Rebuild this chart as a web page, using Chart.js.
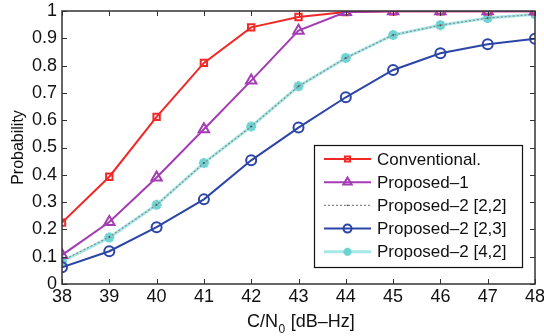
<!DOCTYPE html>
<html><head><meta charset="utf-8">
<script src="https://cdn.jsdelivr.net/npm/chart.js@4/dist/chart.umd.min.js"></script>
<style>html,body{margin:0;padding:0;background:#fff}#wrap{width:544px;height:336px}</style>
</head><body><div id="wrap"><canvas id="c" width="544" height="336"></canvas></div>
<script>
const categories = [38,39,40,41,42,43,44,45,46,47,48];
const yTicks = [0,0.1,0.2,0.3,0.4,0.5,0.6,0.7,0.8,0.9,1];
const conventional = [0.225,0.393,0.612,0.81,0.94,0.978,0.996,0.999,0.999,0.999,0.999];
const proposed1 = [0.106,0.227,0.39,0.567,0.745,0.928,0.996,0.999,0.999,0.999,0.999];
const proposed2_22 = [0.085,0.172,0.29,0.443,0.577,0.724,0.828,0.912,0.948,0.974,0.988];
const proposed2_23 = [0.061,0.12,0.208,0.31,0.453,0.573,0.684,0.784,0.845,0.878,0.898];
const proposed2_42 = [0.083,0.17,0.29,0.443,0.577,0.724,0.828,0.912,0.948,0.974,0.988];
const labels = ['Conventional.','Proposed\u20131','Proposed\u20132 [2,2]','Proposed\u20132 [2,3]','Proposed\u20132 [4,2]'];

const FONT = '"Liberation Sans", Arial, sans-serif';
const pts = a => a.map((v,i)=>({x:categories[i],y:v}));

const datasets = [
  {label:labels[4],data:pts(proposed2_42),borderColor:'#a6e8e8',backgroundColor:'#6fd3d3',pointBorderColor:'#6fd3d3',borderWidth:3,pointStyle:'star',pointRadius:5,pointBorderWidth:3,order:5},
  {label:labels[2],data:pts(proposed2_22),borderColor:'#8a8a8a',backgroundColor:'#555',pointBorderColor:'#555',borderWidth:1.2,borderDash:[2,2],pointStyle:'circle',pointRadius:1,pointBorderWidth:0,order:4},
  {label:labels[3],data:pts(proposed2_23),borderColor:'#2b45a8',backgroundColor:'rgba(0,0,0,0)',borderWidth:2,pointStyle:'circle',pointRadius:5,pointBorderWidth:2,order:3},
  {label:labels[1],data:pts(proposed1),borderColor:'#a43cb4',backgroundColor:'rgba(0,0,0,0)',borderWidth:2,pointStyle:'triangle',pointRadius:6,pointBorderWidth:2,order:1},
  {label:labels[0],data:pts(conventional),borderColor:'#f02828',backgroundColor:'rgba(0,0,0,0)',borderWidth:2,pointStyle:'rect',pointRadius:4.5,pointBorderWidth:2,order:2}
];

const frame = {
  id:'frame',
  afterDatasetsDraw(chart){
    const {ctx, chartArea:a, scales:{x,y}} = chart;
    ctx.save();
    ctx.strokeStyle='#333'; ctx.lineWidth=1.5;
    ctx.strokeRect(a.left,a.top,a.right-a.left,a.bottom-a.top);
    ctx.lineWidth=1;
    const L=5;
    categories.forEach(v=>{const px=Math.round(x.getPixelForValue(v))+0.5;
      ctx.beginPath();ctx.moveTo(px,a.bottom);ctx.lineTo(px,a.bottom-L);ctx.moveTo(px,a.top);ctx.lineTo(px,a.top+L);ctx.stroke();});
    yTicks.forEach(v=>{const py=Math.round(y.getPixelForValue(v))+0.5;
      ctx.beginPath();ctx.moveTo(a.left,py);ctx.lineTo(a.left+L,py);ctx.moveTo(a.right,py);ctx.lineTo(a.right-L,py);ctx.stroke();});
    // legend
    const bx=314,by=145,bw=208,bh=122;
    ctx.fillStyle='#fff';ctx.fillRect(bx,by,bw,bh);
    ctx.strokeStyle='#111';ctx.lineWidth=1.2;ctx.strokeRect(bx+0.5,by+0.5,bw,bh);
    const order=[4,3,1,2,0];
    order.forEach((di,row)=>{
      const ds=chart.data.datasets[di];
      const ry=by+14+row*23.2;
      ctx.save();
      ctx.strokeStyle=ds.borderColor;ctx.lineWidth=ds.borderWidth;
      ctx.setLineDash(ds.borderDash||[]);
      ctx.beginPath();ctx.moveTo(324,ry);ctx.lineTo(371,ry);ctx.stroke();
      ctx.restore();
      ctx.save();
      ctx.strokeStyle=ds.pointBorderColor||ds.borderColor; ctx.fillStyle=ds.backgroundColor; ctx.lineWidth=ds.pointBorderWidth||1;
      Chart.helpers.drawPoint(ctx,{pointStyle:ds.pointStyle,radius:ds.pointRadius*0.8,borderWidth:ds.pointBorderWidth,rotation:0},347.5,ry);
      ctx.restore();
      ctx.fillStyle='#111';ctx.font='17px '+FONT;ctx.textBaseline='middle';ctx.textAlign='left';
      ctx.fillText(ds.label,377,ry+1);
    });
    // x title with subscript
    ctx.fillStyle='#111';ctx.textBaseline='alphabetic';ctx.textAlign='left';
    const FS='18px '+FONT, FSS='12px '+FONT;
    ctx.font=FS;
    const t1='C/N', t2=' [dB\u2013Hz]';
    const w1=ctx.measureText(t1).width;
    ctx.font=FSS; const ws=ctx.measureText('0').width+1;
    ctx.font=FS;
    const sx=247; const ty=327;
    ctx.fillText(t1,sx,ty); ctx.font=FSS; ctx.fillText('0',sx+w1+0.5,ty+6);
    ctx.font=FS; ctx.fillText(t2,sx+w1+ws,ty);
    ctx.restore();
  }
};

new Chart(document.getElementById('c'),{
  type:'line',
  data:{datasets},
  options:{
    responsive:false,animation:false,
    layout:{padding:{top:11,right:9,left:0,bottom:0}},
    plugins:{legend:{display:false},tooltip:{enabled:false}},
    elements:{line:{tension:0}},
    scales:{
      x:{type:'linear',min:38,max:48,
        afterBuildTicks:s=>{s.ticks=categories.map(v=>({value:v}));},
        afterFit:s=>{s.height=52;s.paddingRight=0;s.paddingLeft=0;},
        grid:{display:false,drawTicks:false},border:{display:false},
        ticks:{color:'#111',font:{family:FONT,size:18,lineHeight:0.9},padding:5,maxRotation:0,callback:v=>String(v)}},
      y:{type:'linear',min:0,max:1,
        afterBuildTicks:s=>{s.ticks=yTicks.map(v=>({value:v}));},
        afterFit:s=>{s.width=62;s.paddingTop=0;s.paddingBottom=0;},
        grid:{display:false,drawTicks:false},border:{display:false},
        ticks:{color:'#111',font:{family:FONT,size:18,lineHeight:0.9},padding:5,callback:v=>String(+v.toFixed(1))},
        title:{display:true,text:'Probability',color:'#111',font:{family:FONT,size:16},padding:{top:9,bottom:0}}}
    }
  },
  plugins:[frame]
});
</script></body></html>
